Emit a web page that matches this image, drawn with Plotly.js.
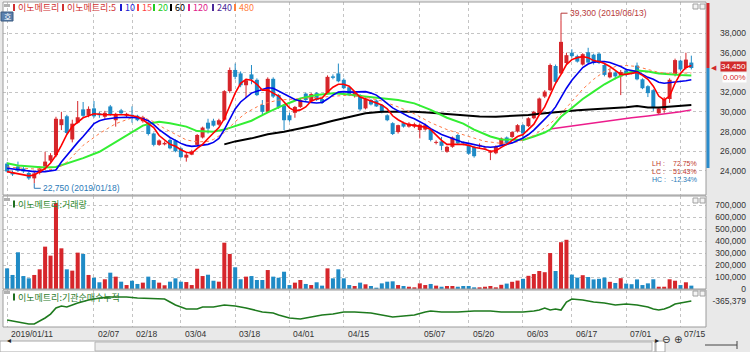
<!DOCTYPE html>
<html><head><meta charset="utf-8">
<script src="https://cdn.plot.ly/plotly-3.0.1.min.js"></script>
<style>html,body{margin:0;padding:0;background:#e9e9e9;}#chart{width:750px;height:352px;}</style>
</head><body><div id="chart"></div>
<script>
const dates = ["2019/01/11","2019/01/14","2019/01/15","2019/01/16","2019/01/17","2019/01/18","2019/01/21","2019/01/22","2019/01/23","2019/01/24","2019/01/25","2019/01/28","2019/01/29","2019/01/30","2019/01/31","2019/02/01","2019/02/07","2019/02/08","2019/02/11","2019/02/12","2019/02/13","2019/02/14","2019/02/15","2019/02/18","2019/02/19","2019/02/20","2019/02/21","2019/02/22","2019/02/25","2019/02/26","2019/02/27","2019/02/28","2019/03/04","2019/03/05","2019/03/06","2019/03/07","2019/03/08","2019/03/11","2019/03/12","2019/03/13","2019/03/14","2019/03/15","2019/03/18","2019/03/19","2019/03/20","2019/03/21","2019/03/22","2019/03/25","2019/03/26","2019/03/27","2019/03/28","2019/03/29","2019/04/01","2019/04/02","2019/04/03","2019/04/04","2019/04/05","2019/04/08","2019/04/09","2019/04/10","2019/04/11","2019/04/12","2019/04/15","2019/04/16","2019/04/17","2019/04/18","2019/04/19","2019/04/22","2019/04/23","2019/04/24","2019/04/25","2019/04/26","2019/04/29","2019/04/30","2019/05/02","2019/05/03","2019/05/07","2019/05/08","2019/05/09","2019/05/10","2019/05/13","2019/05/14","2019/05/15","2019/05/16","2019/05/17","2019/05/20","2019/05/21","2019/05/22","2019/05/23","2019/05/24","2019/05/27","2019/05/28","2019/05/29","2019/05/30","2019/05/31","2019/06/03","2019/06/04","2019/06/05","2019/06/07","2019/06/10","2019/06/11","2019/06/12","2019/06/13","2019/06/14","2019/06/17","2019/06/18","2019/06/19","2019/06/20","2019/06/21","2019/06/24","2019/06/25","2019/06/26","2019/06/27","2019/06/28","2019/07/01","2019/07/02","2019/07/03","2019/07/04","2019/07/05","2019/07/08","2019/07/09","2019/07/10","2019/07/11","2019/07/12","2019/07/15","2019/07/16","2019/07/17"];

const open  = [24750,23850,24450,24250,23800,23250,23800,24450,25050,25600,28650,29550,27200,28900,30250,29650,30350,29850,29500,30550,29150,30150,29600,29700,29600,29050,28900,27800,26650,26700,27150,27100,26300,25350,25650,26650,27400,28900,29100,28700,29200,32100,34250,33900,32700,33800,33250,30700,30000,33350,31700,30650,29650,29900,30500,31850,31050,31900,31300,31900,33600,33900,33250,32500,31600,31700,30350,31200,31150,30700,29650,28850,27950,28850,28500,28500,28150,28200,28200,26850,27000,25950,26450,27650,26950,26550,26450,26500,26300,25850,25800,26650,27400,27450,28000,28650,28550,29350,29850,31550,32200,34650,33900,34950,36000,35650,34800,36050,35800,35900,34750,33500,34000,33600,34200,34100,34700,33300,32600,32200,29850,30200,31300,33750,35200,34450,35000];
const high  = [24900,24050,24950,24400,23900,23900,24450,25950,25800,29500,30000,29700,29200,31100,31000,30550,31100,30000,30100,30700,29900,30300,29900,30550,29700,29600,29000,27900,27200,27000,27300,27200,26400,25900,26150,27750,28500,29300,29300,29300,32200,34500,34900,34100,33350,34750,33400,31200,33500,33500,31800,30800,29900,30600,31300,31950,31900,32000,31400,33700,33800,34900,33400,32600,32100,31800,31450,31300,31250,30800,29750,28950,28700,29000,28950,28900,28800,28800,28300,27100,27450,26550,27500,27750,27000,26700,26550,26800,26500,26100,26600,27400,27500,28050,28750,28750,29450,30100,31450,32200,34900,34800,39300,36000,36350,35800,35950,36500,35900,36000,34850,34400,34200,34250,34300,34250,35000,33400,32700,32300,30500,31500,33400,35400,35300,36000,35700];
const low   = [23850,23500,23900,23800,23100,22750,23650,24300,24900,25400,28150,27750,26900,28800,29400,29450,29400,29400,29300,29600,28500,29750,29450,28900,29050,28900,27600,26500,26550,26600,26200,25900,25300,24950,25600,26550,27300,27800,28500,28600,29100,31900,33300,32500,31400,32800,31600,29700,29900,31400,30300,28150,29000,29400,30400,31050,31000,31100,30800,31800,33300,33000,32300,31600,31450,30100,30250,30650,30500,29850,29050,27650,27800,28400,28400,28350,27300,28100,27000,26700,26100,25850,26350,26700,26600,25650,25350,26350,26150,25100,25700,26550,26700,27350,27900,27150,28450,29250,29750,31400,32100,32900,33800,34800,35500,35000,34700,34900,34800,34850,33600,33400,33300,31700,33600,33800,33200,32300,31500,30100,29700,29900,30900,33600,34100,34300,34300];
const close = [23950,23650,24050,23950,23250,23750,24250,24950,25600,29300,29250,27850,28800,29450,29600,30300,29550,29650,29900,29700,29800,29850,29800,29550,29150,29450,27750,26650,27100,26850,26300,26000,25400,25650,26000,27650,28400,28300,28600,29150,32100,34250,33550,32700,33200,33300,31700,30000,33350,31550,30500,29150,29150,30500,31200,31200,31800,31200,30900,33550,33450,33100,32400,31700,32000,30250,31350,30750,30550,29950,29150,27750,28650,28500,28800,28750,28700,28650,27150,26950,26550,26450,27400,26800,26800,25750,25500,26650,26350,26000,26500,27300,26800,27950,28650,27800,29350,30000,31350,32050,34750,33050,37100,35750,35650,35100,35850,35000,34950,34950,33750,34000,33600,34050,33750,33900,33300,32400,31900,30450,30350,31300,33250,35250,34300,35300,34450];
const volume = [172000,117000,306000,108000,89000,117000,164000,353000,278000,717000,339000,164000,153000,303000,292000,117000,94000,56000,81000,136000,103000,61000,33000,69000,42000,53000,103000,75000,53000,31000,61000,89000,61000,58000,33000,169000,108000,119000,69000,61000,386000,292000,181000,81000,103000,108000,75000,75000,158000,103000,94000,144000,33000,53000,75000,42000,33000,56000,28000,172000,89000,164000,89000,33000,25000,53000,39000,25000,11000,47000,61000,64000,33000,25000,19000,14000,47000,33000,42000,28000,19000,25000,25000,19000,25000,25000,14000,14000,19000,25000,14000,35000,45000,60000,70000,85000,110000,125000,150000,140000,300000,150000,390000,410000,120000,95000,115000,100000,80000,85000,95000,60000,50000,90000,45000,40000,80000,33000,47000,81000,19000,19000,81000,69000,33000,56000,28000];

const ma5Idx = [0,2,4,5,7,8,9,10,11,12,13,14,16,18,20,22,23,24,25,26,27,28,29,30,31,32,33,34,35,36,37,38,39,40,41,42,43,44,45,46,47,48,49,50,51,52,53,54,55,56,57,58,59,60,61,62,63,64,65,66,67,68,69,70,71,72,73,74,75,76,77,78,79,80,81,82,83,84,85,86,87,88,89,90,91,92,93,94,95,96,97,98,99,100,101,102,103,104,105,106,107,108,109,110,111,112,113,114,115,116,117,118,119,120,121,122,123,124,125,126];
const ma5Val = [23930,23700,23500,23600,24250,24800,25600,26600,27700,28500,29000,29400,29800,29700,29700,29700,29600,29500,29200,28800,28400,27600,27100,26700,26500,26150,25900,25800,26300,26700,27300,27900,28400,29300,30700,31900,32900,33300,33200,32800,32200,32200,31900,31600,31000,30400,30100,30200,30500,31100,31300,31400,32000,32500,32800,32800,32600,32100,31500,31300,31100,30900,30700,30300,29600,29200,28900,28700,28600,28500,28450,28200,27600,27100,26700,26700,26650,26700,26600,26400,26300,26200,26000,26050,26400,26700,27100,27500,27700,28200,28750,29700,30500,31700,32900,33800,34800,35300,35500,35600,35500,35200,35100,34900,34600,34200,33800,33800,33900,34000,33700,33300,32600,31600,31200,31600,32900,33900,34500,34700];
const ma10Idx = [0,3,5,7,9,10,11,12,13,14,15,16,17,18,20,22,24,25,26,27,28,29,30,31,32,33,34,35,36,37,38,39,40,41,42,43,44,45,46,47,48,49,50,51,52,53,54,55,56,57,58,59,60,61,62,63,64,65,66,67,68,69,70,71,72,73,74,75,76,77,78,79,80,81,82,83,84,85,86,87,88,89,90,91,92,93,94,95,96,97,98,99,100,101,102,103,104,105,106,107,108,109,110,111,112,113,114,115,116,117,118,119,120,121,122,123,124,125,126];
const ma10Val = [24270,24050,23930,23930,24100,24900,25600,26200,26900,27500,28200,28800,29100,29250,29400,29450,29400,29300,29100,28700,28200,27800,27400,27100,26800,26600,26500,26550,26600,26700,26900,27300,28200,29300,30300,31000,31500,31900,32100,32300,32450,32400,32100,31800,31500,31250,31100,31000,30950,30900,30950,31300,31700,32000,32050,32000,32000,32050,32050,31900,31700,31300,30800,30400,30100,29800,29500,29300,29000,28700,28300,28000,27700,27500,27300,27100,26900,26800,26650,26550,26450,26400,26450,26550,26700,26850,27100,27350,27700,28150,28700,29200,29800,30500,31500,32400,33200,33900,34500,34850,35050,35100,35100,35000,34800,34600,34300,34200,34100,33800,33500,33300,33000,32900,32950,33000,33100,33150,33250];
const ma15Idx = [0,5,9,11,14,17,20,23,25,27,29,31,33,35,37,38,40,42,44,47,50,53,56,60,63,66,69,72,75,78,81,85,88,91,94,97,100,102,104,106,108,110,112,114,116,118,120,122,124,126];
const ma15Val = [24400,24200,24150,24900,26600,27800,28800,29400,29450,29000,28300,27700,27150,26950,27000,27200,27900,29000,29900,30800,31200,31300,31400,31600,31700,31500,31100,30500,29800,28900,28200,27500,27000,26800,26950,27600,28800,29800,31000,32300,33300,34100,34600,34700,34600,34300,34000,33900,33900,33950];
const ma20Idx = [0,2,5,7,9,11,14,17,20,23,25,27,28,30,33,35,38,40,43,45,48,51,54,57,60,62,65,68,72,75,78,81,84,86,89,91,93,95,97,99,100,102,104,106,108,110,112,114,116,118,120,122,124,126];
const ma20Val = [24780,24550,24440,24340,24400,24780,25300,25950,26950,27950,28600,28900,29000,28850,28500,28050,27990,28200,28700,29100,29950,30700,31350,31700,31880,31800,31600,31400,31200,30860,30200,29400,28800,28200,27500,27200,27150,27140,27500,27900,28200,29500,30400,31300,32050,32800,33400,33900,34200,34100,33900,33800,33750,33700];
const ma60Idx = [40,42,45,48,51,54,57,60,63,66,69,72,75,78,81,84,87,90,93,96,99,102,105,108,111,114,116,118,120,122,124,126];
const ma60Val = [26700,27000,27310,27720,27990,28330,28670,29100,29440,29850,30020,30030,30000,29900,29780,29600,29520,29510,29580,29680,29850,30020,30150,30260,30350,30460,30590,30450,30450,30530,30620,30700];
const ma120Idx = [100,103,106,109,112,115,118,121,124,126];
const ma120Val = [28260,28500,28700,28950,29170,29400,29580,29780,30000,30200];

const cumIdx = [0,2,4,5,6,7,8,9,10,11,12,13,15,17,19,22,24,27,29,30,31,33,35,36,38,40,42,44,47,49,50,52,54,56,58,60,62,64,67,69,71,73,75,77,78,80,83,86,89,91,95,97,98,99,100,101,102,103,104,106,108,110,112,114,116,118,119,120,121,122,123,124,125,126];
const cumVal = [-593120,-617450,-641200,-640800,-605600,-569100,-521700,-449260,-425810,-437050,-413600,-389200,-353640,-329500,-317260,-318100,-329900,-341200,-341800,-377500,-413150,-461620,-460900,-437700,-436950,-413800,-425500,-449600,-497200,-509650,-533100,-569700,-581300,-557600,-533500,-521200,-497800,-497100,-509300,-533800,-557200,-545500,-533300,-497500,-485300,-497400,-497700,-485600,-485100,-497250,-497900,-485450,-473500,-449100,-473200,-461400,-473600,-377200,-341500,-353200,-377600,-389500,-413300,-401200,-413700,-437400,-461200,-473100,-461600,-437200,-401500,-389100,-377300,-365379];

const priceTicks = [24000,26000,28000,30000,32000,34000,36000,38000];
const priceTickText = ["24,000","26,000","28,000","30,000","32,000","","36,000","38,000"];
const volTicks = [0,100000,200000,300000,400000,500000,600000,700000];
const dateTickIdx = [0,16,23,32,42,52,62,76,85,95,104,114,124];
const dateTickText = ["2019/01/11","02/07","02/18","03/04","03/18","04/01","04/15","05/07","05/20","06/03","06/17","07/01","07/15"];
const lastPrice = 34450, lastChange = "0.00%";
const hiIdx = 102, loIdx = 5;
const statLabels = ["LH","LC","HC"], statValues = ["72.75%","51.43%","-12.34%"];

/* ---------- drawing ---------- */
const W=750,H=352,L=3,R=4,T=2,B=25,PW=W-L-R,PH=H-T-B;
const px2x = p => (p-L)/PW, py2y = p => (H-B-p)/PH;
const UP='#d6262b', DN='#1f8bc6';
const PR=[21562,41146], VR=[0,775000], CR=[-677379,-233379];
const priceDom=[py2y(195),py2y(2)], volDom=[py2y(289),py2y(196)], cumDom=[py2y(327),py2y(290)];
const pricePerPx = (PR[1]-PR[0])/((priceDom[1]-priceDom[0])*PH);
const D = a => a.map(i=>dates[i]);
const isUp = i => close[i] >= open[i];

function wick(cond,color){const x=[],y=[];dates.forEach((d,i)=>{if(cond(i)){x.push(d,d,null);y.push(low[i],high[i],null);}});
 return {type:'scatter',mode:'lines',x,y,xaxis:'x',yaxis:'y',line:{color,width:1},hoverinfo:'skip',showlegend:false};}
function body(cond,color){const x=[],b=[],h=[];dates.forEach((d,i)=>{if(cond(i)){x.push(d);b.push(Math.min(open[i],close[i]));h.push(Math.max(Math.abs(close[i]-open[i]),70));}});
 return {type:'bar',x,y:h,base:b,width:0.74,xaxis:'x',yaxis:'y',marker:{color,line:{width:0}},hoverinfo:'skip',showlegend:false};}
function vol(cond,color){const x=[],y=[];dates.forEach((d,i)=>{if(cond(i)){x.push(d);y.push(volume[i]);}});
 return {type:'bar',x,y,width:0.74,xaxis:'x',yaxis:'y2',marker:{color,line:{width:0}},hoverinfo:'skip',showlegend:false};}
function ma(idx,val,color,width,dash){return {type:'scatter',mode:'lines',x:D(idx),y:val,xaxis:'x',yaxis:'y',line:{color,width,dash:dash||'solid'},hoverinfo:'skip',showlegend:false};}

const traces=[
 body(i=>isUp(i),UP), body(i=>!isUp(i),DN),
 wick(i=>isUp(i),UP), wick(i=>!isUp(i),DN),
 ma(ma120Idx,ma120Val,'#ec1c8c',1.5),
 ma(ma60Idx,ma60Val,'#000000',2),
 ma(ma20Idx,ma20Val,'#33ee33',2),
 ma(ma15Idx,ma15Val,'#ff7a45',1,'dot'),
 ma(ma10Idx,ma10Val,'#0000ee',1.6),
 ma(ma5Idx,ma5Val,'#ff0000',1.6),
 vol(i=>isUp(i),UP), vol(i=>!isUp(i),DN),
 {type:'scatter',mode:'lines',x:D(cumIdx),y:cumVal,xaxis:'x',yaxis:'y3',line:{color:'#1e7a1e',width:1.6},hoverinfo:'skip',showlegend:false}
];

const tickFont={family:'Liberation Sans, Arial, sans-serif',size:8.5,color:'#333'};
const yCommon={side:'left',anchor:'free',position:1,showline:false,zeroline:false,ticks:'',fixedrange:true,
 gridcolor:'#c4c4c4',griddash:'dot',gridwidth:1,tickfont:tickFont,tickformat:',d'};

const ann=[], shp=[];
[['x domain','y domain'],['x domain','y2 domain'],['x domain','y3 domain']].forEach(([xr,yr])=>
 shp.push({type:'rect',xref:xr,yref:yr,x0:0,x1:1,y0:0,y1:1,line:{color:'#9c9c9c',width:1}}));
shp.push({type:'line',xref:'paper',yref:'y',x0:px2x(708),x1:px2x(708),y0:lastPrice,y1:PR[1]-pricePerPx,line:{color:'#d4262b',width:3}});
shp.push({type:'line',xref:'paper',yref:'y',x0:px2x(708),x1:px2x(708),y0:lastPrice,y1:24300,line:{color:'#2a8ccc',width:3}});
const hiTop = high[hiIdx] + 7*pricePerPx, loBot = low[loIdx] - 5*pricePerPx;
shp.push({type:'line',xref:'x',yref:'y',x0:dates[hiIdx],x1:dates[hiIdx],y0:high[hiIdx],y1:hiTop,line:{color:'#b83a3a',width:1}});
shp.push({type:'line',xref:'x',yref:'y',x0:hiIdx,x1:hiIdx+1.2,y0:hiTop,y1:hiTop,line:{color:'#b83a3a',width:1}});
shp.push({type:'line',xref:'x',yref:'y',x0:dates[loIdx],x1:dates[loIdx],y0:low[loIdx],y1:loBot,line:{color:'#2a7ab8',width:1}});
shp.push({type:'line',xref:'x',yref:'y',x0:loIdx,x1:loIdx+1.2,y0:loBot,y1:loBot,line:{color:'#2a7ab8',width:1}});
const smallFont={family:'Liberation Sans, Arial, sans-serif',size:8.5};
ann.push({xref:'x',yref:'y',x:hiIdx+1.3,y:hiTop,xanchor:'left',yanchor:'middle',showarrow:false,
 text:high[hiIdx].toLocaleString('en-US')+' ('+dates[hiIdx]+')',font:Object.assign({color:'#b83a3a'},smallFont)});
ann.push({xref:'x',yref:'y',x:loIdx+1.3,y:loBot,xanchor:'left',yanchor:'middle',showarrow:false,
 text:low[loIdx].toLocaleString('en-US')+' ('+dates[loIdx]+')',font:Object.assign({color:'#2a7ab8'},smallFont)});
const statCol=['#c0392b','#c0392b','#2a7ab8'];
statLabels.forEach((s,k)=>{
 const py = 163 + 8*k;
 ann.push({xref:'paper',yref:'paper',x:px2x(650),y:py2y(py),xanchor:'left',yanchor:'middle',showarrow:false,text:s+' :',font:{family:'Liberation Sans',size:7,color:statCol[k]}});
 ann.push({xref:'paper',yref:'paper',x:px2x(699),y:py2y(py),xanchor:'right',yanchor:'middle',showarrow:false,text:statValues[k],font:{family:'Liberation Sans',size:7,color:statCol[k]}});
});
ann.push({xref:'paper',yref:'y',x:px2x(747),y:lastPrice,yshift:1,xanchor:'right',yanchor:'middle',showarrow:false,text:lastPrice.toLocaleString('en-US'),
 bgcolor:'#d22b2b',borderpad:0,font:{family:'Liberation Sans',size:8,color:'#ffffff'}});
ann.push({xref:'paper',yref:'y',x:px2x(747),y:lastPrice,yshift:-9.5,xanchor:'right',yanchor:'middle',showarrow:false,text:lastChange,
 bgcolor:'#ffffff',borderpad:0,font:{family:'Liberation Sans',size:8,color:'#d22b2b'}});
ann.push({xref:'paper',yref:'y',x:px2x(709),y:lastPrice,xanchor:'left',yanchor:'middle',showarrow:false,text:'◀',font:{family:'DejaVu Sans',size:7,color:'#d22b2b'}});
const leg=[['이노메트리','#d03030',13],['이노메트리:5','#d03030',62],['10','#1c1cd0',120],['15','#ff4040',137],['20','#22cc22',153],['60','#000000',170],['120','#e0208a',188],['240','#4b2a9a',212],['480','#ff8040',234]];
const kfont='Noto Sans CJK KR, sans-serif';
leg.forEach(([t,c,x])=>{
 shp.push({type:'rect',xref:'paper',yref:'paper',x0:px2x(x),x1:px2x(x+2),y0:py2y(11),y1:py2y(4),fillcolor:c,line:{width:0}});
 ann.push({xref:'paper',yref:'paper',x:px2x(x+3),y:py2y(7.5),xanchor:'left',yanchor:'middle',showarrow:false,text:t,font:{family:kfont,size:9,color:c}});
});
shp.push({type:'rect',xref:'paper',yref:'paper',x0:px2x(4),x1:px2x(10),y0:py2y(7),y1:py2y(4),fillcolor:'#b0b0b0',line:{width:0}});
shp.push({type:'rect',xref:'paper',yref:'paper',x0:px2x(1),x1:px2x(13),y0:py2y(21),y1:py2y(12),fillcolor:'#5a80ad',line:{color:'#3a5a80',width:1}});
ann.push({xref:'paper',yref:'paper',x:px2x(7),y:py2y(16.5),xanchor:'center',yanchor:'middle',showarrow:false,text:'호',font:{family:kfont,size:8,color:'#ffffff'}});
[[204,'이노메트리:거래량','#2e8b2e',198],[297,'이노메트리:기관순매수누적','#2e7d2e',291]].forEach(([py,t,c,gy])=>{
 shp.push({type:'rect',xref:'paper',yref:'paper',x0:px2x(4),x1:px2x(10),y0:py2y(gy+3),y1:py2y(gy),fillcolor:'#b0b0b0',line:{width:0}});
 shp.push({type:'rect',xref:'paper',yref:'paper',x0:px2x(13),x1:px2x(15),y0:py2y(py+3.5),y1:py2y(py-3.5),fillcolor:'#1e6e1e',line:{width:0}});
 ann.push({xref:'paper',yref:'paper',x:px2x(16),y:py2y(py),xanchor:'left',yanchor:'middle',showarrow:false,text:t,font:{family:kfont,size:9,color:c}});
});
[4,198,291].forEach(py=>{[693,700].forEach(px=>shp.push({type:'rect',xref:'paper',yref:'paper',x0:px2x(px),x1:px2x(px+5),y0:py2y(py+5),y1:py2y(py),fillcolor:'#f4f4f4',line:{color:'#a0a0a0',width:1}}));});
dateTickIdx.forEach((i,k)=>ann.push({xref:'x',yref:'paper',x:dates[i],y:py2y(334),xanchor:'left',yanchor:'middle',xshift:2,showarrow:false,text:dateTickText[k],font:tickFont}));
shp.push({type:'rect',xref:'paper',yref:'paper',x0:px2x(0),x1:px2x(655),y0:py2y(352),y1:py2y(341),fillcolor:'#ffffff',line:{color:'#a8a8a8',width:1}});
shp.push({type:'rect',xref:'paper',yref:'paper',x0:px2x(95),x1:px2x(652),y0:py2y(351),y1:py2y(342),fillcolor:'#ececec',line:{color:'#b4b4b4',width:1}});
shp.push({type:'rect',xref:'paper',yref:'paper',x0:px2x(656),x1:px2x(665),y0:py2y(352),y1:py2y(341),fillcolor:'#ffffff',line:{color:'#a8a8a8',width:1}});
ann.push({xref:'paper',yref:'paper',x:px2x(5),y:py2y(346.5),showarrow:false,text:'◂',font:{family:'DejaVu Sans',size:8,color:'#222'}});
ann.push({xref:'paper',yref:'paper',x:px2x(660.5),y:py2y(346.5),showarrow:false,text:'▸',font:{family:'DejaVu Sans',size:8,color:'#222'}});
ann.push({xref:'paper',yref:'paper',x:px2x(672),y:py2y(346.5),showarrow:false,text:'⊖',font:{family:'DejaVu Sans',size:10,color:'#333'}});
ann.push({xref:'paper',yref:'paper',x:px2x(684),y:py2y(346.5),showarrow:false,text:'⊕',font:{family:'DejaVu Sans',size:10,color:'#333'}});
shp.push({type:'line',xref:'paper',yref:'paper',x0:px2x(705),x1:px2x(737),y0:py2y(345),y1:py2y(345),line:{color:'#444',width:1}});
shp.push({type:'line',xref:'paper',yref:'paper',x0:px2x(737),x1:px2x(737),y0:py2y(341),y1:py2y(349),line:{color:'#444',width:1}});

const layout={
 width:W,height:H,margin:{l:L,r:R,t:T,b:B},paper_bgcolor:'#e9e9e9',plot_bgcolor:'#ffffff',
 showlegend:false,barmode:'overlay',dragmode:false,hovermode:false,
 xaxis:{type:'category',categoryorder:'array',categoryarray:dates,range:[-0.755,128.7],domain:[0,px2x(706)],anchor:'y3',
  tickvals:D(dateTickIdx),showticklabels:false,ticks:'',showgrid:true,gridcolor:'#c4c4c4',griddash:'dot',gridwidth:1,
  zeroline:false,showline:false,fixedrange:true},
 yaxis:Object.assign({},yCommon,{domain:priceDom,range:PR,tickvals:priceTicks,ticktext:priceTickText}),
 yaxis2:Object.assign({},yCommon,{domain:volDom,range:VR,tickvals:volTicks}),
 yaxis3:Object.assign({},yCommon,{domain:cumDom,range:CR,tickvals:[cumVal[cumVal.length-1]],ticktext:[cumVal[cumVal.length-1].toLocaleString('en-US')],showgrid:false}),
 annotations:ann,shapes:shp
};
Plotly.newPlot('chart',traces,layout,{displayModeBar:false,staticPlot:true});
</script></body></html>
